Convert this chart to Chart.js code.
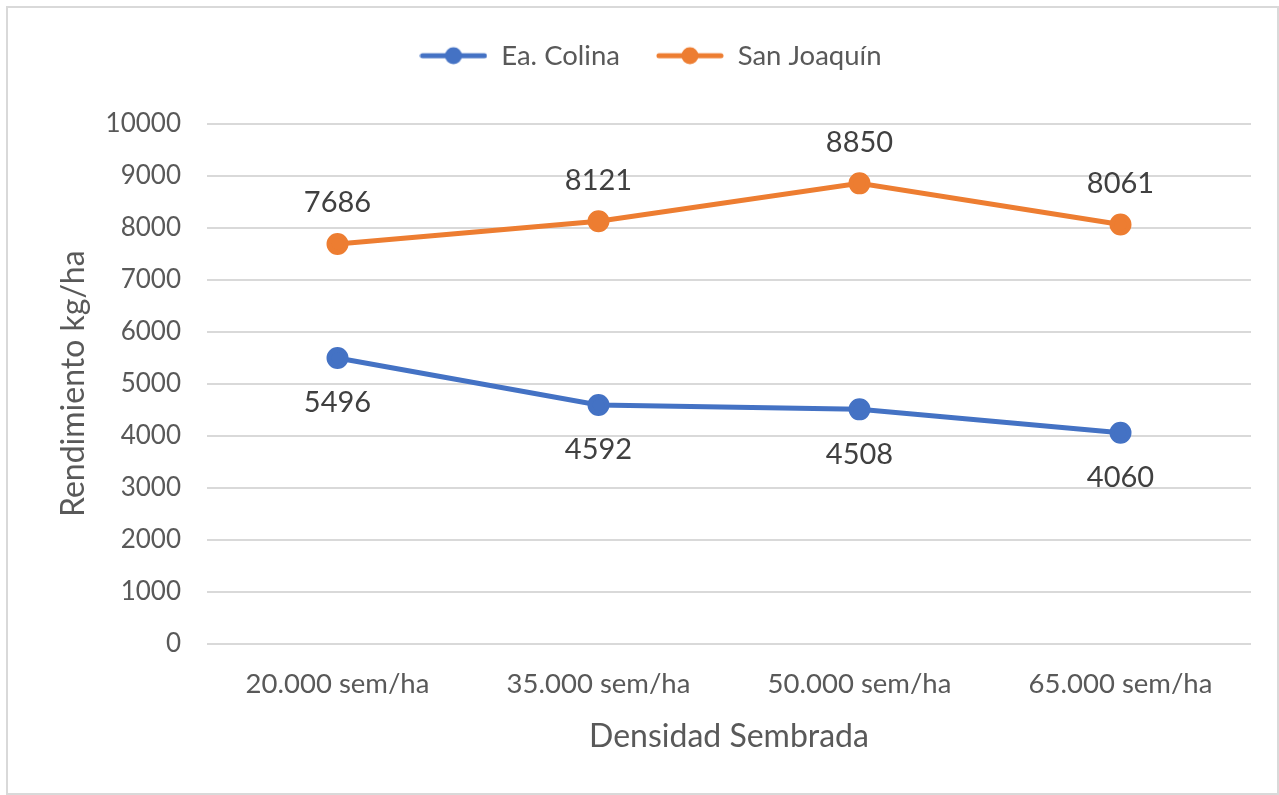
<!DOCTYPE html>
<html>
<head>
<meta charset="utf-8">
<script src="https://cdn.jsdelivr.net/npm/chart.js@4"></script>
<style>
  body { margin: 0; background: #fff; }
  #wrap { position: relative; width: 1279px; height: 795px; }
  #frame { position: absolute; left: 6px; top: 6px; width: 1269px; height: 785px; border: 2px solid #d9d9d9; pointer-events: none; }
</style>
</head>
<body>
<div id="wrap">
  <canvas id="myChart" width="1279" height="795"></canvas>
  <div id="frame"></div>
</div>
<script>
// datos
const densidades = ["20.000 sem/ha", "35.000 sem/ha", "50.000 sem/ha", "65.000 sem/ha"];
const colina = [5496, 4592, 4508, 4060];
const sanJoaquin = [7686, 8121, 8850, 8061];
const yTicks = [0, 1000, 2000, 3000, 4000, 5000, 6000, 7000, 8000, 9000, 10000];

const azul = '#4472C4';
const naranja = '#ED7D31';
const fuente = 'Lato, Calibri, sans-serif';

// icono de leyenda: linea con punto
function iconoLeyenda(color) {
  let c = document.createElement('canvas');
  c.width = 68; c.height = 20;
  let ctx = c.getContext('2d');
  ctx.strokeStyle = color;
  ctx.lineWidth = 5;
  ctx.lineCap = 'round';
  ctx.beginPath();
  ctx.moveTo(3, 10); ctx.lineTo(65, 10);
  ctx.stroke();
  ctx.fillStyle = color;
  ctx.beginPath();
  ctx.arc(34, 10, 8.5, 0, Math.PI * 2);
  ctx.fill();
  return c;
}

// espacio extra debajo de la leyenda
const espacioLeyenda = {
  id: 'espacioLeyenda',
  beforeInit(chart) {
    const fitOrig = chart.legend.fit;
    chart.legend.fit = function () {
      fitOrig.bind(chart.legend)();
      this.height += 44;
    };
  }
};

// etiquetas de datos
const etiquetas = {
  id: 'etiquetas',
  afterDatasetsDraw(chart) {
    let ctx = chart.ctx;
    ctx.save();
    ctx.font = '29px ' + fuente;
    ctx.fillStyle = '#404040';
    ctx.textAlign = 'center';
    ctx.textBaseline = 'middle';
    chart.data.datasets.forEach((ds, i) => {
      let meta = chart.getDatasetMeta(i);
      meta.data.forEach((pt, j) => {
        let dy = ds.etiqueta === 'arriba' ? -41 : 45;
        ctx.fillText(ds.data[j], pt.x, pt.y + dy);
      });
    });
    ctx.restore();
  }
};

let charte = document.getElementById("myChart");
new Chart(charte, {
  type: 'line',
  data: {
    labels: densidades,
    datasets: [
      {
        label: "Ea. Colina",
        data: colina,
        borderColor: azul,
        backgroundColor: azul,
        borderWidth: 5,
        pointRadius: 8.5,
        pointHoverRadius: 8.5,
        pointStyle: 'circle',
        etiqueta: 'abajo',
        tension: 0
      },
      {
        label: "San Joaquín",
        data: sanJoaquin,
        borderColor: naranja,
        backgroundColor: naranja,
        borderWidth: 5,
        pointRadius: 8.5,
        pointHoverRadius: 8.5,
        pointStyle: 'circle',
        etiqueta: 'arriba',
        tension: 0
      }
    ]
  },
  options: {
    responsive: false,
    animation: false,
    layout: { padding: { top: 6, left: 50, right: 28, bottom: 35 } },
    plugins: {
      tooltip: { enabled: false },
      legend: {
        position: 'top',
        labels: {
          font: { family: fuente, size: 27.5 },
          color: '#595959',
          usePointStyle: true,
          pointStyleWidth: 68,
          padding: 36,
          generateLabels(chart) {
            return chart.data.datasets.map((ds, i) => ({
              text: ds.label,
              pointStyle: iconoLeyenda(ds.borderColor),
              fillStyle: ds.borderColor,
              strokeStyle: ds.borderColor,
              lineWidth: 0,
              fontColor: '#595959',
              datasetIndex: i,
              hidden: false
            }));
          }
        }
      }
    },
    scales: {
      x: {
        offset: true,
        grid: { display: false },
        border: { display: false },
        ticks: { font: { family: fuente, size: 27.5 }, color: '#595959', padding: 16 },
        title: {
          display: true,
          text: 'Densidad Sembrada',
          font: { family: fuente, size: 32 },
          color: '#595959',
          padding: { top: 13 }
        },
        afterFit(scale) { scale.height = 795 - 644 - 35; }
      },
      y: {
        min: 0,
        max: 10000,
        afterBuildTicks(scale) { scale.ticks = yTicks.map(v => ({ value: v })); },
        grid: { color: '#d9d9d9', lineWidth: 2, drawTicks: false },
        border: { display: false },
        ticks: {
          font: { family: fuente, size: 26 },
          color: '#595959',
          padding: 26,
          callback: v => String(v)
        },
        title: {
          display: true,
          text: 'Rendimiento kg/ha',
          font: { family: fuente, size: 32 },
          color: '#595959'
        },
        afterFit(scale) { scale.width = 207 - 50; }
      }
    }
  },
  plugins: [espacioLeyenda, etiquetas]
});
</script>
</body>
</html>
